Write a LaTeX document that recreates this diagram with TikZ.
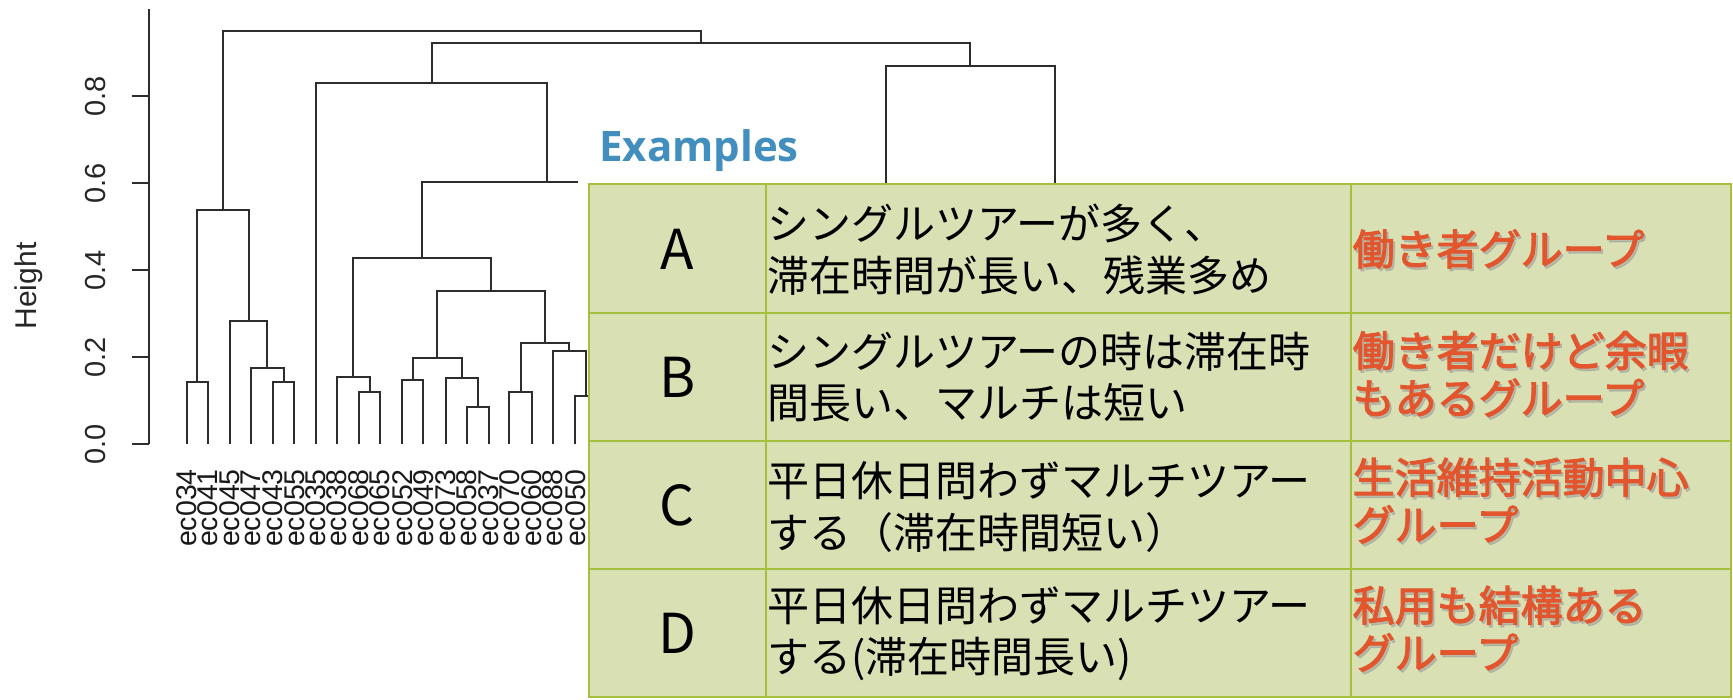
\documentclass[tikz,border=0pt]{standalone}
\usepackage{fontspec}
\setmainfont{Liberation Sans}
\newfontfamily\jp{Noto Sans CJK JP}
\newfontfamily\jpb{Noto Sans CJK JP}[FakeBold=2.6]
\newfontfamily\exfont{Open Sans}
\definecolor{tfill}{RGB}{216,224,180}
\definecolor{tline}{RGB}{165,192,60}
\definecolor{redtxt}{RGB}{226,85,45}
\definecolor{extxt}{RGB}{66,142,190}
\definecolor{dline}{RGB}{45,45,45}
\newcommand\mrg[5]{\draw[dl] (#1,#2) |- (#3,#5) -- (#3,#4);}
\begin{document}
\begin{tikzpicture}[x=1pt,y=-1pt,
  dl/.style={draw=dline,line width=2pt,line join=miter},
  lab/.style={font=\fontsize{28.5}{30}\selectfont,text=black!90,rotate=90,anchor=east,inner sep=0pt},
  tick/.style={font=\fontsize{29}{30}\selectfont,text=black!85,rotate=90,inner sep=0pt},
  letter/.style={font=\jp\fontsize{55}{60}\selectfont,inner sep=0pt},
  jtext/.style={font=\jp\fontsize{42}{51.5}\selectfont,align=left,anchor=west,inner sep=0pt},
  rtext/.style={font=\jpb\fontsize{42}{47.5}\selectfont,align=left,anchor=west,inner sep=0pt,text=redtxt},
  rshadow/.style={rtext,text=black!40,opacity=0.5},
  grid/.style={draw=tline,line width=2.5pt}]
\useasboundingbox (0,0) rectangle (1733,700);
% axis
\draw[dl] (149.3,9.3) coordinate (axtop) -- (149.3,444.3) coordinate (axbot);
\foreach \v/\y in {0.0/444.3,0.2/357.3,0.4/270.3,0.6/183.3,0.8/96.3}{
  \draw[dl] (132,\y) -- (149.3,\y);
  \node[tick] (t\v) at (96,\y) {\v};
}
\node[font=\fontsize{30}{32}\selectfont,text=black!85,rotate=90,anchor=base,inner sep=0pt] (ylab) at (36,286) {Height};
% dendrogram
\mrg{186.8}{444.3}{207.8}{444.3}{382.3}
\mrg{272.9}{444.3}{294.3}{444.3}{382.3}
\mrg{250.7}{444.3}{283.6}{382.3}{367.7}
\mrg{230.0}{444.3}{267.2}{367.7}{320.7}
\mrg{197.3}{382.3}{248.6}{320.7}{210}
\mrg{359.0}{444.3}{380.0}{444.3}{391.7}
\mrg{336.8}{444.3}{369.5}{391.7}{376.7}
\mrg{402.2}{444.3}{423.3}{444.3}{380.3}
\mrg{466.5}{444.3}{488.7}{444.3}{406.7}
\mrg{445.5}{444.3}{477.6}{406.7}{378.3}
\mrg{412.8}{380.3}{461.6}{378.3}{358.3}
\mrg{509.4}{444.3}{531.6}{444.3}{391.7}
\mrg{575.2}{444.3}{596.8}{444.3}{395.7}
\mrg{552.6}{444.3}{586.0}{395.7}{350.7}
\mrg{520.5}{391.7}{569.3}{350.7}{342.7}
\mrg{437.2}{358.3}{544.9}{342.7}{290.7}
\mrg{353.2}{376.7}{491.0}{290.7}{258.3}
\mrg{422.1}{258.3}{671.7}{400}{182.3}
\mrg{316.1}{444.3}{546.9}{182.3}{82.7}
\mrg{885.8}{400}{1054.5}{400}{66}
\mrg{431.5}{82.7}{970.2}{66}{43.3}
\mrg{223.0}{210}{700.9}{43.3}{30.7}
% leaf labels
\foreach \x/\t [count=\i] in {186.8/ec034,207.8/ec041,230.0/ec045,250.7/ec047,272.9/ec043,294.3/ec055,316.1/ec035,336.8/ec038,359.0/ec068,380.0/ec065,402.2/ec052,423.3/ec049,445.5/ec073,466.5/ec058,488.7/ec037,509.4/ec070,531.6/ec060,552.6/ec088,575.2/ec050}{
  \node[lab] (leaf\i) at (\x,469) {\t};
}
% Examples title box
\fill[white] (578,100) rectangle (822,183);
\node[anchor=base west,inner sep=0pt,font=\exfont\bfseries\fontsize{42}{50}\selectfont,text=extxt] (ex) at (599,161.7) {Examples};
% table
\fill[tfill] (589,184) rectangle (1731,697);
\draw[grid] (589,184) rectangle (1731,697);
\draw[grid] (766,184) -- (766,697);
\draw[grid] (1351,184) -- (1351,697);
\foreach \y in {313,441,569}{\draw[grid] (589,\y) -- (1731,\y);}
% letters
\node[letter] (la) at (677.5,249) {A};
\node[letter] (lb) at (677.5,377) {B};
\node[letter] (lc) at (677.5,505) {C};
\node[letter] (ld) at (677.5,633) {D};
% descriptions
\node[jtext] (da) at (767,249.9) {シングルツアーが多く、\\滞在時間が長い、残業多め};
\node[jtext] (db) at (767,377.3) {シングルツアーの時は滞在時\\間長い、マルチは短い};
\node[jtext] (dc) at (767,507.1) {平日休日問わずマルチツアー\\する（滞在時間短い）};
\node[jtext] (dd) at (767,633.5) {平日休日問わずマルチツアー\\する(滞在時間長い)};
% group names
\node[rshadow] (sa) at (1354.5,251.5) {働き者グループ};
\node[rtext] (ga) at (1352.5,249) {働き者グループ};
\node[rshadow] (sb) at (1354.5,376.5) {働き者だけど余暇\\もあるグループ};
\node[rtext] (gb) at (1352.5,374) {働き者だけど余暇\\もあるグループ};
\node[rshadow] (sc) at (1354.5,503.2) {生活維持活動中心\\グループ};
\node[rtext] (gc) at (1352.5,500.7) {生活維持活動中心\\グループ};
\node[rshadow] (sd) at (1354.5,631.2) {私用も結構ある\\グループ};
\node[rtext] (gd) at (1352.5,628.7) {私用も結構ある\\グループ};
\end{tikzpicture}
\end{document}
